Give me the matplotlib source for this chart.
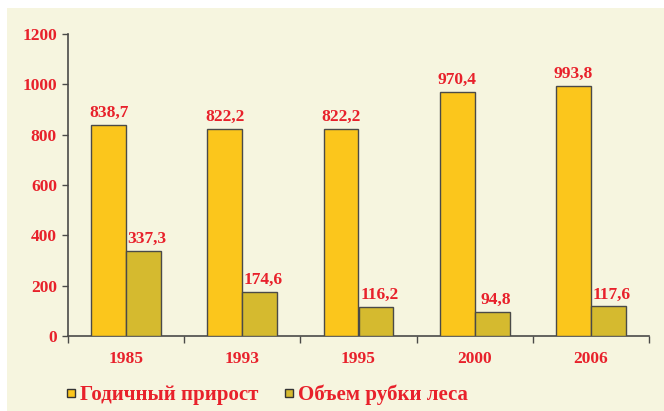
import matplotlib
matplotlib.use("Agg")
import matplotlib.pyplot as plt
from matplotlib.patches import Rectangle
from matplotlib.lines import Line2D
import numpy as np

years = ["1985", "1993", "1995", "2000", "2006"]
growth = [838.7, 822.2, 822.2, 970.4, 993.8]
cutting = [337.3, 174.6, 116.2, 94.8, 117.6]
growth_labels = ["838,7", "822,2", "822,2", "970,4", "993,8"]
cutting_labels = ["337,3", "174,6", "116,2", "94,8", "117,6"]
series_names = ["Годичный прирост", "Объем рубки леса"]
yticks = [0, 200, 400, 600, 800, 1000, 1200]

RED = "#E8212B"
GOLD = "#FBC61C"
OLIVE = "#D5BA2F"
EDGE = "#4a4a48"
BG = "#F6F5DF"
FONT = "Liberation Serif"

W, H = 664, 411
fig = plt.figure(figsize=(W / 100, H / 100), dpi=100)
fig.patch.set_facecolor("white")
fig.patches.append(Rectangle((7 / W, 0), 1 - 7 / W, 1 - 8 / H, transform=fig.transFigure,
                             facecolor=BG, edgecolor="none", zorder=-5))

ax = fig.add_axes([68 / W, (H - 336) / H, 581 / W, 302 / H])
ax.set_facecolor("none")
ax.set_zorder(2)

x = np.arange(len(years))
bw = 0.30
ax.bar(x - bw / 2, growth, bw, color=GOLD, edgecolor=EDGE, linewidth=1.0, zorder=3)
ax.bar(x + bw / 2, cutting, bw, color=OLIVE, edgecolor=EDGE, linewidth=1.0, zorder=3)

for i in range(len(years)):
    ax.text(x[i] - bw / 2, growth[i] + 16, growth_labels[i], ha="center", va="bottom",
            color=RED, fontsize=12.5, fontweight="bold", family=FONT)
    ax.text(x[i] + bw / 2 + 0.03, cutting[i] + 16, cutting_labels[i], ha="center", va="bottom",
            color=RED, fontsize=12.5, fontweight="bold", family=FONT)

ax.set_xlim(-0.5, len(years) - 0.5)
ax.set_ylim(0, 1200)
ax.set_yticks(yticks)
ax.set_yticklabels([str(v) for v in yticks])
ax.set_xticks(np.arange(len(years) + 1) - 0.5)
ax.set_xticklabels([])
ax.set_xticks(x, minor=True)
ax.set_xticklabels(years, minor=True)
ax.tick_params(axis="x", which="minor", length=0, pad=11)
ax.tick_params(axis="x", which="major", length=5, width=1, color=EDGE, direction="out")
ax.tick_params(axis="y", length=4, width=1, color=EDGE, direction="out", pad=4)

for lab in ax.get_yticklabels() + ax.get_xticklabels(minor=True):
    lab.set_color(RED)
    lab.set_fontweight("bold")
    lab.set_family(FONT)
    lab.set_fontsize(12.5)

for s in ["top", "right"]:
    ax.spines[s].set_visible(False)
for s in ["left", "bottom"]:
    ax.spines[s].set_color(EDGE)
    ax.spines[s].set_linewidth(1.2)

handles = [Line2D([], [], marker="s", linestyle="none", markersize=5.5, markerfacecolor=c,
                  markeredgecolor="#333333", markeredgewidth=1.0) for c in (GOLD, OLIVE)]
leg = fig.legend(handles, series_names, loc="center left", bbox_to_anchor=(47 / W, 1 - 395 / H),
                 ncol=2, frameon=False, handlelength=0.5, handletextpad=0.2, columnspacing=1.2,
                 prop={"family": FONT, "weight": "bold", "size": 15})
for t in leg.get_texts():
    t.set_color(RED)

fig.savefig("out.png", dpi=100, facecolor=fig.get_facecolor())
